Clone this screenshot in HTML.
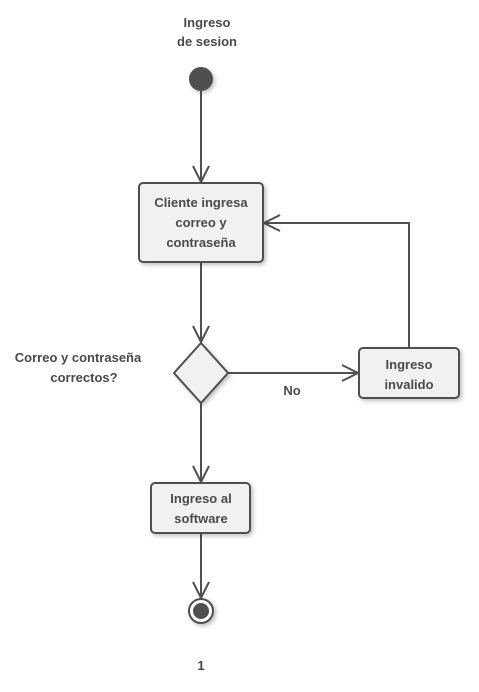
<!DOCTYPE html>
<html><head><meta charset="utf-8"><style>
html,body{margin:0;padding:0;background:#fff;width:479px;height:692px;overflow:hidden}
text{font-family:"Liberation Sans","DejaVu Sans",sans-serif;font-weight:bold;font-size:13px;fill:#4a4a4a;text-anchor:middle}
</style></head><body>
<svg width="479" height="692" viewBox="0 0 479 692" xmlns="http://www.w3.org/2000/svg">
<defs><filter id="s" x="-30%" y="-30%" width="160%" height="160%"><feGaussianBlur in="SourceAlpha" stdDeviation="2"/><feOffset dx="2" dy="2"/><feComponentTransfer><feFuncA type="linear" slope="0.25"/></feComponentTransfer><feMerge><feMergeNode/><feMergeNode in="SourceGraphic"/></feMerge></filter></defs>
<g stroke="#505050" stroke-width="2" fill="none">
<line x1="201" y1="91" x2="201" y2="182"/><polyline points="193,166 201,182 209,166"/>
<line x1="201" y1="263" x2="201" y2="342"/><polyline points="193,326 201,342 209,326"/>
<line x1="227" y1="373" x2="358" y2="373"/><polyline points="342,365 358,373 342,381"/>
<polyline points="409,347 409,223 264,223"/><polyline points="280,215 264,223 280,231"/>
<line x1="201" y1="403" x2="201" y2="482"/><polyline points="193,466 201,482 209,466"/>
<line x1="201" y1="534" x2="201" y2="598"/><polyline points="193,582 201,598 209,582"/>
</g>
<circle cx="201" cy="79" r="12" fill="#505050" filter="url(#s)"/>
<g fill="#f1f1f1" stroke="#505050" stroke-width="2" filter="url(#s)">
<rect x="139" y="183" width="124" height="79" rx="4"/>
<polygon points="201,343 228,373 201,403 174,373"/>
<rect x="359" y="348" width="100" height="50" rx="4"/>
<rect x="151" y="483" width="99" height="50" rx="4"/>
</g>
<circle cx="201" cy="611" r="12" fill="#fff" stroke="#505050" stroke-width="2" filter="url(#s)"/>
<circle cx="201" cy="611" r="8" fill="#505050"/>
<text x="207" y="27">Ingreso</text>
<text x="207" y="46">de sesion</text>
<text x="201" y="207">Cliente ingresa</text>
<text x="201" y="227">correo y</text>
<text x="201" y="247">contraseña</text>
<text x="78" y="362">Correo y contraseña</text>
<text x="84" y="382">correctos?</text>
<text x="292" y="395">No</text>
<text x="409" y="369">Ingreso</text>
<text x="409" y="389">invalido</text>
<text x="201" y="503">Ingreso al</text>
<text x="201" y="523">software</text>
<text x="201" y="670">1</text>
</svg>
</body></html>
